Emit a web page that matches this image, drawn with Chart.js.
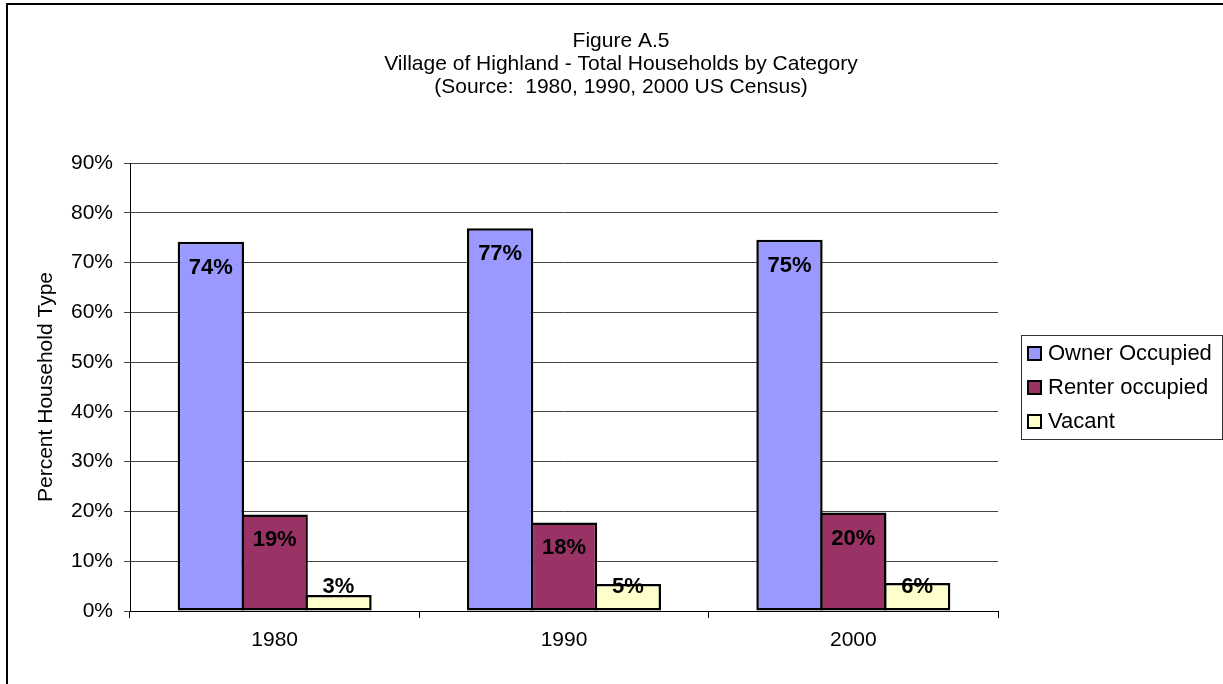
<!DOCTYPE html>
<html>
<head>
<meta charset="utf-8">
<title>Figure A.5</title>
<script src="https://cdn.jsdelivr.net/npm/chart.js@4/dist/chart.umd.min.js"></script>
<style>
  html, body { margin: 0; padding: 0; background: #fff; }
  #wrap { width: 1223px; height: 684px; }
</style>
</head>
<body>
<div id="wrap"><canvas id="householdChart" width="1223" height="684"></canvas></div>
<script>
// data
const years = ["1980", "1990", "2000"];
const ownerOccupied = [74.2, 76.9, 74.6];
const renterOccupied = [19.4, 17.8, 19.8];
const vacant = [3.2, 5.4, 5.6];
const seriesNames = ["Owner Occupied", "Renter occupied", "Vacant"];
const titleLines = ["Figure A.5", "Village of Highland - Total Households by Category", "(Source:  1980, 1990, 2000 US Census)"];

const FONT = "'Liberation Sans', Arial, sans-serif";

// outer frame + title
const framePlugin = {
    id: "frame",
    beforeDraw(chart) {
        const ctx = chart.ctx;
        ctx.save();
        ctx.fillStyle = "#fff";
        ctx.fillRect(0, 0, chart.width, chart.height);
        ctx.strokeStyle = "#000";
        ctx.lineWidth = 2;
        ctx.beginPath();
        ctx.moveTo(7, chart.height);
        ctx.lineTo(7, 4);
        ctx.lineTo(chart.width, 4);
        ctx.stroke();

        ctx.fillStyle = "#000";
        ctx.font = "21px " + FONT;
        ctx.textAlign = "center";
        ctx.textBaseline = "middle";
        const ys = [41, 64, 87];
        titleLines.forEach((line, i) => ctx.fillText(line, 621, ys[i]));
        ctx.restore();
    }
};

// percentage labels inside top of bars
const barLabels = {
    id: "barLabels",
    afterDatasetsDraw(chart) {
        const ctx = chart.ctx;
        ctx.save();
        ctx.fillStyle = "#000";
        ctx.font = "bold 22px " + FONT;
        ctx.textAlign = "center";
        ctx.textBaseline = "middle";
        chart.data.datasets.forEach((ds, i) => {
            chart.getDatasetMeta(i).data.forEach((bar, j) => {
                const y = Math.min(bar.y + 26, bar.base - 24);
                ctx.fillText(Math.round(ds.data[j]) + "%", bar.x, y);
            });
        });
        ctx.restore();
    }
};

// legend box on the right
const boxLegend = {
    id: "boxLegend",
    afterDraw(chart) {
        const ctx = chart.ctx;
        ctx.save();
        ctx.strokeStyle = "#333";
        ctx.lineWidth = 1;
        ctx.strokeRect(1021.5, 335.5, 201, 104);
        ctx.font = "22px " + FONT;
        ctx.textBaseline = "middle";
        ctx.textAlign = "left";
        chart.data.datasets.forEach((ds, i) => {
            const cy = 353 + i * 34;
            ctx.fillStyle = ds.backgroundColor;
            ctx.fillRect(1028, cy - 6, 13, 13);
            ctx.strokeStyle = "#000";
            ctx.lineWidth = 2;
            ctx.strokeRect(1028, cy - 6, 13, 13);
            ctx.fillStyle = "#000";
            ctx.fillText(ds.label, 1048, cy + 1);
        });
        ctx.restore();
    }
};

const ctx = document.getElementById("householdChart").getContext("2d");

new Chart(ctx, {
    type: "bar",
    data: {
        labels: years,
        datasets: [
            { label: seriesNames[0], data: ownerOccupied, backgroundColor: "#9999FF" },
            { label: seriesNames[1], data: renterOccupied, backgroundColor: "#993366" },
            { label: seriesNames[2], data: vacant, backgroundColor: "#FFFFCC" }
        ]
    },
    options: {
        responsive: false,
        animation: false,
        devicePixelRatio: 1,
        datasets: {
            bar: {
                borderColor: "#000",
                borderWidth: 2.5,
                borderSkipped: false,
                categoryPercentage: 0.662,
                barPercentage: 1.039  // slight overlap so neighbouring borders merge
            }
        },
        layout: {
            padding: { left: 0, right: 225, top: 163, bottom: 0 }
        },
        plugins: {
            legend: { display: false },
            title: { display: false },
            tooltip: { enabled: false }
        },
        scales: {
            x: {
                offset: true,
                grid: { offset: true, drawOnChartArea: false, tickLength: 7, color: "#000" },
                border: { color: "#000", width: 1 },
                ticks: { color: "#000", font: { family: FONT, size: 21 }, padding: 10 },
                afterFit(scale) { scale.height = 73; }
            },
            y: {
                min: 0,
                max: 90,
                ticks: {
                    stepSize: 10,
                    color: "#000",
                    padding: 11,
                    font: { family: FONT, size: 21 },
                    callback: v => v + "%"
                },
                grid: { color: "#444", tickLength: 6 },
                border: { color: "#000", width: 1 },
                title: {
                    display: true,
                    text: "Percent Household Type",
                    color: "#000",
                    font: { family: FONT, size: 21 },
                    padding: { top: 34, bottom: 0 }
                },
                afterFit(scale) { scale.width = 130; }
            }
        }
    },
    plugins: [framePlugin, barLabels, boxLegend]
});
</script>
</body>
</html>
